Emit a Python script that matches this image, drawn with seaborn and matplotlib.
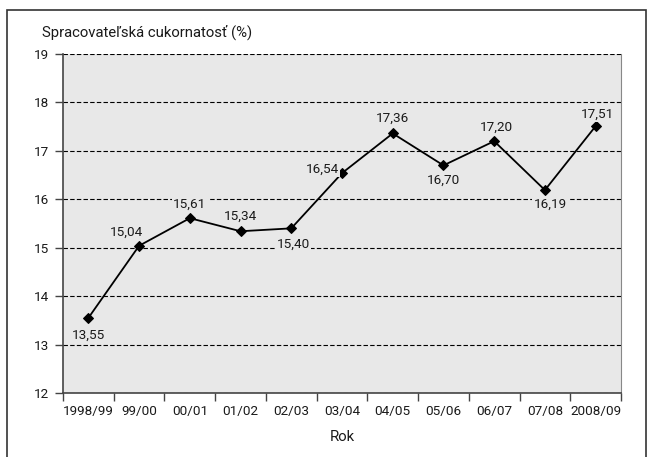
import pandas as pd
import seaborn as sns
import matplotlib
matplotlib.use('Agg')
from matplotlib import pyplot as plt
from matplotlib.patches import Rectangle

# Data
years = ['1998/99', '99/00', '00/01', '01/02', '02/03', '03/04',
         '04/05', '05/06', '06/07', '07/08', '2008/09']
sugar = [13.55, 15.04, 15.61, 15.34, 15.40, 16.54, 17.36, 16.70, 17.20, 16.19, 17.51]
# label offsets in pixels (dx, dy)
label_offsets = [(0, -17), (-13, 14), (0, 14), (0, 15), (2, -16), (-20, 4),
                 (0, 15), (0, -15), (2, 14), (5, -14), (2, 12)]

data = pd.DataFrame({'Rok': years, 'value': sugar})

sns.set_style('white')
plt.rcParams['font.family'] = ['Roboto', 'DejaVu Sans']

bg = '#e8e8e8'
fig = plt.figure(figsize=(6.53, 4.57), dpi=100)
ax = fig.add_axes([63 / 653, 64 / 457, 558 / 653, 339 / 457])
ax.set_facecolor(bg)

sns.lineplot(data=data, x='Rok', y='value', ax=ax, color='black', lw=1.3,
             marker='D', markersize=5.5, markeredgecolor='black', sort=False)

for i, (v, off) in enumerate(zip(sugar, label_offsets)):
    ax.annotate(f'{v:.2f}'.replace('.', ','), (i, v), xytext=off,
                textcoords='offset pixels', ha='center', va='center',
                fontsize=9.7, color='#1a1a1a',
                bbox=dict(boxstyle='square,pad=0.1', fc=bg, ec='none'))

ax.set_ylim(12, 19)
ax.set_xlim(-0.5, len(years) - 0.5)
ax.set_yticks(range(12, 20))
ax.yaxis.grid(True, color='black', linestyle=(0, (4, 2)), lw=0.8)
ax.set_axisbelow(True)

ax.set_xticks(range(len(years)))
ax.set_xticklabels(years, fontsize=9.7, color='#1a1a1a')
ax.set_xticks([x - 0.5 for x in range(len(years) + 1)], minor=True)
ax.tick_params(axis='x', which='major', bottom=False, length=0, pad=9)
ax.tick_params(axis='x', which='minor', bottom=True, length=6, width=1,
               color='#444444', direction='out')
ax.tick_params(axis='y', left=True, length=6, width=1, labelsize=9.7, pad=4,
               direction='out', color='#444444', labelcolor='#1a1a1a')

for side in ['left', 'bottom']:
    ax.spines[side].set_color('#444444')
    ax.spines[side].set_linewidth(1.2)
ax.spines['right'].set_color('#888888')
ax.spines['top'].set_visible(False)

ax.set_xlabel('Rok', fontsize=10.7, labelpad=8, color='#1a1a1a')
ax.set_ylabel('')

fig.text(42 / 653, 1 - 32 / 457, 'Spracovateľská cukornatosť (%)', fontsize=10.7,
         ha='left', va='center', color='#1a1a1a')

fig.add_artist(Rectangle((7 / 653, -0.1), 639 / 653, 1.1 - 10 / 457,
                         transform=fig.transFigure, fill=False, ec='#333333', lw=1.2))

fig.savefig('out.png', dpi=100)
